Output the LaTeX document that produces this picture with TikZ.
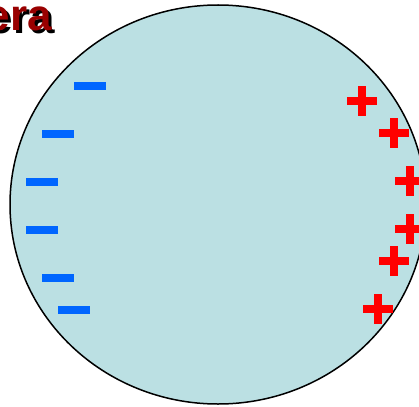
\documentclass[tikz,border=0pt]{standalone}
\usepackage{fontspec}
\setmainfont{Liberation Sans}
\definecolor{ballfill}{HTML}{BBE0E3}
\definecolor{minusblue}{HTML}{0066FF}
\definecolor{plusred}{HTML}{FF0000}
\definecolor{titlered}{HTML}{990000}
\begin{document}
\begin{tikzpicture}[x=1pt,y=-1pt,
  ball/.style={fill=ballfill,draw=black,line width=1.5pt},
  minusbar/.style={fill=minusblue},
  plusbar/.style={fill=plusred},
  title/.style={font=\fontsize{44}{44}\selectfont\bfseries,inner sep=0pt,anchor=base east}]
\useasboundingbox (0,0) rectangle (419,406);
\clip (0,0) rectangle (419,406);
% title with shadow
\node[title,text=black] (titleshadow) at (55,34) {era};
\node[title,text=titlered] (titletext) at (52,31) {era};
% sphere
\draw[ball] (218,204.5) ellipse [x radius=208, y radius=199.5];
% minus signs
\foreach \x/\y in {74/82, 42/130, 26/178, 26/226, 42/274, 58/306}
  \fill[minusbar] (\x,\y) rectangle ++(32,8);
% plus signs
\foreach \cx/\cy in {362/101, 394/133, 410/181, 410/229, 394/261, 378/309}{
  \fill[plusbar] (\cx-15,\cy-4) rectangle (\cx+15,\cy+4);
  \fill[plusbar] (\cx-4,\cy-15) rectangle (\cx+4,\cy+15);
}
\end{tikzpicture}
\end{document}
